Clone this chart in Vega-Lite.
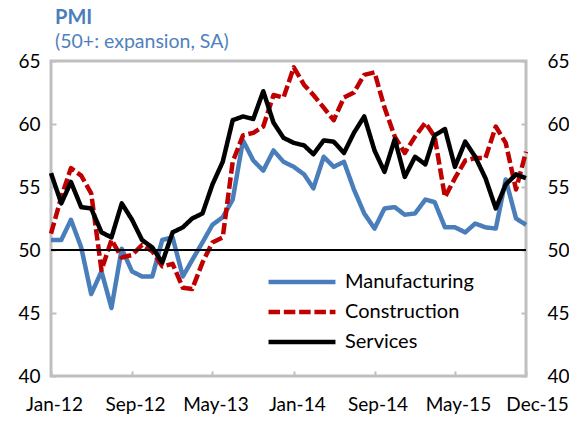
{
  "$schema": "https://vega.github.io/schema/vega-lite/v6.json",
  "width": 475,
  "height": 315,
  "autosize": "none",
  "padding": {"left": 51, "top": 61, "right": 43, "bottom": 46},
  "background": "white",
  "config": {
    "font": "Lato",
    "view": {"stroke": "#BFBFBF", "strokeWidth": 3},
    "axis": {"grid": false, "domain": false, "labelFont": "Lato", "labelFontSize": 19, "labelColor": "#000000", "tickColor": "#BFBFBF", "tickWidth": 2, "tickSize": -5, "title": null}
  },
  "title": {"text": "PMI", "subtitle": "(50+: expansion, SA)", "anchor": "start", "frame": "group", "font": "Lato", "fontSize": 20, "fontWeight": "bold", "color": "#4A7EBB", "subtitleFont": "Lato", "subtitleFontSize": 19.5, "subtitleColor": "#4F81BD", "subtitlePadding": 5, "offset": 1, "dx": 4},
  "datasets": {
    "pmi": [
      {"month": "2012/01/01", "series": "Manufacturing", "value": 50.8},
      {"month": "2012/02/01", "series": "Manufacturing", "value": 50.8},
      {"month": "2012/03/01", "series": "Manufacturing", "value": 52.4},
      {"month": "2012/04/01", "series": "Manufacturing", "value": 50.2},
      {"month": "2012/05/01", "series": "Manufacturing", "value": 46.5},
      {"month": "2012/06/01", "series": "Manufacturing", "value": 48.3},
      {"month": "2012/07/01", "series": "Manufacturing", "value": 45.4},
      {"month": "2012/08/01", "series": "Manufacturing", "value": 50.1},
      {"month": "2012/09/01", "series": "Manufacturing", "value": 48.3},
      {"month": "2012/10/01", "series": "Manufacturing", "value": 47.9},
      {"month": "2012/11/01", "series": "Manufacturing", "value": 47.9},
      {"month": "2012/12/01", "series": "Manufacturing", "value": 50.8},
      {"month": "2013/01/01", "series": "Manufacturing", "value": 51.0},
      {"month": "2013/02/01", "series": "Manufacturing", "value": 47.9},
      {"month": "2013/03/01", "series": "Manufacturing", "value": 49.2},
      {"month": "2013/04/01", "series": "Manufacturing", "value": 50.6},
      {"month": "2013/05/01", "series": "Manufacturing", "value": 52.0},
      {"month": "2013/06/01", "series": "Manufacturing", "value": 52.6},
      {"month": "2013/07/01", "series": "Manufacturing", "value": 54.0},
      {"month": "2013/08/01", "series": "Manufacturing", "value": 58.7},
      {"month": "2013/09/01", "series": "Manufacturing", "value": 57.1},
      {"month": "2013/10/01", "series": "Manufacturing", "value": 56.3},
      {"month": "2013/11/01", "series": "Manufacturing", "value": 57.9},
      {"month": "2013/12/01", "series": "Manufacturing", "value": 57.0},
      {"month": "2014/01/01", "series": "Manufacturing", "value": 56.6},
      {"month": "2014/02/01", "series": "Manufacturing", "value": 56.0},
      {"month": "2014/03/01", "series": "Manufacturing", "value": 54.9},
      {"month": "2014/04/01", "series": "Manufacturing", "value": 57.4},
      {"month": "2014/05/01", "series": "Manufacturing", "value": 56.6},
      {"month": "2014/06/01", "series": "Manufacturing", "value": 57.0},
      {"month": "2014/07/01", "series": "Manufacturing", "value": 54.8},
      {"month": "2014/08/01", "series": "Manufacturing", "value": 52.9},
      {"month": "2014/09/01", "series": "Manufacturing", "value": 51.7},
      {"month": "2014/10/01", "series": "Manufacturing", "value": 53.3},
      {"month": "2014/11/01", "series": "Manufacturing", "value": 53.4},
      {"month": "2014/12/01", "series": "Manufacturing", "value": 52.8},
      {"month": "2015/01/01", "series": "Manufacturing", "value": 52.9},
      {"month": "2015/02/01", "series": "Manufacturing", "value": 54.0},
      {"month": "2015/03/01", "series": "Manufacturing", "value": 53.8},
      {"month": "2015/04/01", "series": "Manufacturing", "value": 51.8},
      {"month": "2015/05/01", "series": "Manufacturing", "value": 51.8},
      {"month": "2015/06/01", "series": "Manufacturing", "value": 51.4},
      {"month": "2015/07/01", "series": "Manufacturing", "value": 52.1},
      {"month": "2015/08/01", "series": "Manufacturing", "value": 51.8},
      {"month": "2015/09/01", "series": "Manufacturing", "value": 51.7},
      {"month": "2015/10/01", "series": "Manufacturing", "value": 55.6},
      {"month": "2015/11/01", "series": "Manufacturing", "value": 52.5},
      {"month": "2015/12/01", "series": "Manufacturing", "value": 52.0},
      {"month": "2012/01/01", "series": "Construction", "value": 51.3},
      {"month": "2012/02/01", "series": "Construction", "value": 54.2},
      {"month": "2012/03/01", "series": "Construction", "value": 56.5},
      {"month": "2012/04/01", "series": "Construction", "value": 55.9},
      {"month": "2012/05/01", "series": "Construction", "value": 54.5},
      {"month": "2012/06/01", "series": "Construction", "value": 48.4},
      {"month": "2012/07/01", "series": "Construction", "value": 50.8},
      {"month": "2012/08/01", "series": "Construction", "value": 49.4},
      {"month": "2012/09/01", "series": "Construction", "value": 49.6},
      {"month": "2012/10/01", "series": "Construction", "value": 50.4},
      {"month": "2012/11/01", "series": "Construction", "value": 49.9},
      {"month": "2012/12/01", "series": "Construction", "value": 48.7},
      {"month": "2013/01/01", "series": "Construction", "value": 48.9},
      {"month": "2013/02/01", "series": "Construction", "value": 47.0},
      {"month": "2013/03/01", "series": "Construction", "value": 46.9},
      {"month": "2013/04/01", "series": "Construction", "value": 49.0},
      {"month": "2013/05/01", "series": "Construction", "value": 50.6},
      {"month": "2013/06/01", "series": "Construction", "value": 51.0},
      {"month": "2013/07/01", "series": "Construction", "value": 57.0},
      {"month": "2013/08/01", "series": "Construction", "value": 59.1},
      {"month": "2013/09/01", "series": "Construction", "value": 59.3},
      {"month": "2013/10/01", "series": "Construction", "value": 59.8},
      {"month": "2013/11/01", "series": "Construction", "value": 62.3},
      {"month": "2013/12/01", "series": "Construction", "value": 62.1},
      {"month": "2014/01/01", "series": "Construction", "value": 64.5},
      {"month": "2014/02/01", "series": "Construction", "value": 63.1},
      {"month": "2014/03/01", "series": "Construction", "value": 62.3},
      {"month": "2014/04/01", "series": "Construction", "value": 61.3},
      {"month": "2014/05/01", "series": "Construction", "value": 60.3},
      {"month": "2014/06/01", "series": "Construction", "value": 62.1},
      {"month": "2014/07/01", "series": "Construction", "value": 62.5},
      {"month": "2014/08/01", "series": "Construction", "value": 63.9},
      {"month": "2014/09/01", "series": "Construction", "value": 64.1},
      {"month": "2014/10/01", "series": "Construction", "value": 61.3},
      {"month": "2014/11/01", "series": "Construction", "value": 59.0},
      {"month": "2014/12/01", "series": "Construction", "value": 57.7},
      {"month": "2015/01/01", "series": "Construction", "value": 59.0},
      {"month": "2015/02/01", "series": "Construction", "value": 60.1},
      {"month": "2015/03/01", "series": "Construction", "value": 59.0},
      {"month": "2015/04/01", "series": "Construction", "value": 54.2},
      {"month": "2015/05/01", "series": "Construction", "value": 55.7},
      {"month": "2015/06/01", "series": "Construction", "value": 57.1},
      {"month": "2015/07/01", "series": "Construction", "value": 57.3},
      {"month": "2015/08/01", "series": "Construction", "value": 57.3},
      {"month": "2015/09/01", "series": "Construction", "value": 59.8},
      {"month": "2015/10/01", "series": "Construction", "value": 58.5},
      {"month": "2015/11/01", "series": "Construction", "value": 54.8},
      {"month": "2015/12/01", "series": "Construction", "value": 57.8},
      {"month": "2012/01/01", "series": "Services", "value": 56.1},
      {"month": "2012/02/01", "series": "Services", "value": 53.7},
      {"month": "2012/03/01", "series": "Services", "value": 55.4},
      {"month": "2012/04/01", "series": "Services", "value": 53.4},
      {"month": "2012/05/01", "series": "Services", "value": 53.3},
      {"month": "2012/06/01", "series": "Services", "value": 51.4},
      {"month": "2012/07/01", "series": "Services", "value": 51.0},
      {"month": "2012/08/01", "series": "Services", "value": 53.7},
      {"month": "2012/09/01", "series": "Services", "value": 52.4},
      {"month": "2012/10/01", "series": "Services", "value": 50.8},
      {"month": "2012/11/01", "series": "Services", "value": 50.2},
      {"month": "2012/12/01", "series": "Services", "value": 49.0},
      {"month": "2013/01/01", "series": "Services", "value": 51.4},
      {"month": "2013/02/01", "series": "Services", "value": 51.8},
      {"month": "2013/03/01", "series": "Services", "value": 52.5},
      {"month": "2013/04/01", "series": "Services", "value": 52.9},
      {"month": "2013/05/01", "series": "Services", "value": 55.2},
      {"month": "2013/06/01", "series": "Services", "value": 57.0},
      {"month": "2013/07/01", "series": "Services", "value": 60.3},
      {"month": "2013/08/01", "series": "Services", "value": 60.6},
      {"month": "2013/09/01", "series": "Services", "value": 60.4},
      {"month": "2013/10/01", "series": "Services", "value": 62.6},
      {"month": "2013/11/01", "series": "Services", "value": 60.1},
      {"month": "2013/12/01", "series": "Services", "value": 58.9},
      {"month": "2014/01/01", "series": "Services", "value": 58.5},
      {"month": "2014/02/01", "series": "Services", "value": 58.3},
      {"month": "2014/03/01", "series": "Services", "value": 57.6},
      {"month": "2014/04/01", "series": "Services", "value": 58.7},
      {"month": "2014/05/01", "series": "Services", "value": 58.6},
      {"month": "2014/06/01", "series": "Services", "value": 57.7},
      {"month": "2014/07/01", "series": "Services", "value": 59.3},
      {"month": "2014/08/01", "series": "Services", "value": 60.6},
      {"month": "2014/09/01", "series": "Services", "value": 57.9},
      {"month": "2014/10/01", "series": "Services", "value": 56.2},
      {"month": "2014/11/01", "series": "Services", "value": 58.8},
      {"month": "2014/12/01", "series": "Services", "value": 55.8},
      {"month": "2015/01/01", "series": "Services", "value": 57.4},
      {"month": "2015/02/01", "series": "Services", "value": 56.8},
      {"month": "2015/03/01", "series": "Services", "value": 59.1},
      {"month": "2015/04/01", "series": "Services", "value": 59.6},
      {"month": "2015/05/01", "series": "Services", "value": 56.6},
      {"month": "2015/06/01", "series": "Services", "value": 58.6},
      {"month": "2015/07/01", "series": "Services", "value": 57.4},
      {"month": "2015/08/01", "series": "Services", "value": 55.7},
      {"month": "2015/09/01", "series": "Services", "value": 53.3},
      {"month": "2015/10/01", "series": "Services", "value": 55.2},
      {"month": "2015/11/01", "series": "Services", "value": 56.0},
      {"month": "2015/12/01", "series": "Services", "value": 55.7}
    ]
  },
  "layer": [
    {
      "data": {"name": "pmi"},
      "mark": {"type": "line", "strokeWidth": 4.5, "strokeCap": "butt", "strokeJoin": "round"},
      "encoding": {
        "x": {
          "field": "month", "type": "temporal",
          "scale": {"domain": [{"year": 2012, "month": 1, "date": 1}, {"year": 2015, "month": 12, "date": 1}], "nice": false},
          "axis": {
            "values": [
              {"year": 2012, "month": 1, "date": 1},
              {"year": 2012, "month": 9, "date": 1},
              {"year": 2013, "month": 5, "date": 1},
              {"year": 2014, "month": 1, "date": 1},
              {"year": 2014, "month": 9, "date": 1},
              {"year": 2015, "month": 5, "date": 1},
              {"year": 2015, "month": 12, "date": 1}
            ],
            "format": "%b-%y", "labelPadding": 24, "labelFlush": false, "labelOverlap": false, "labelBound": false,
            "labelOffset": {"expr": "datum.index == 1 ? 11 : 3"}
          }
        },
        "y": {
          "field": "value", "type": "quantitative",
          "scale": {"domain": [40, 65], "nice": false, "zero": false},
          "axis": {"orient": "left", "values": [40, 45, 50, 55, 60, 65], "labelPadding": 16}
        },
        "color": {
          "field": "series", "type": "nominal",
          "scale": {"domain": ["Manufacturing", "Construction", "Services"], "range": ["#4A7EBB", "#C00000", "#000000"]},
          "legend": {"orient": "none", "legendX": 241, "legendY": 211, "title": null, "symbolType": "M-5.15,0H5.15", "symbolSize": 169, "symbolStrokeWidth": 4.5, "labelFontSize": 20, "labelFont": "Lato", "labelColor": "#000000", "labelOffset": 33, "padding": 0, "rowPadding": 10}
        },
        "strokeDash": {
          "field": "series", "type": "nominal",
          "scale": {"domain": ["Manufacturing", "Construction", "Services"], "range": [[1, 0], [11.5, 3.8], [1, 0]]},
          "legend": {"orient": "none", "legendX": 241, "legendY": 211, "title": null, "symbolType": "M-5.15,0H5.15", "symbolSize": 169, "symbolStrokeWidth": 4.5, "labelFontSize": 20, "labelFont": "Lato", "labelColor": "#000000", "labelOffset": 33, "padding": 0, "rowPadding": 10}
        }
      }
    },
    {
      "data": {"values": [{"v": 50}]},
      "mark": {"type": "rule", "color": "#000000", "strokeWidth": 2},
      "encoding": {
        "y": {
          "field": "v", "type": "quantitative",
          "scale": {"domain": [40, 65], "nice": false, "zero": false},
          "axis": {"orient": "right", "values": [40, 45, 50, 55, 60, 65], "labelPadding": 26}
        }
      }
    }
  ],
  "resolve": {"scale": {"y": "independent"}}
}
